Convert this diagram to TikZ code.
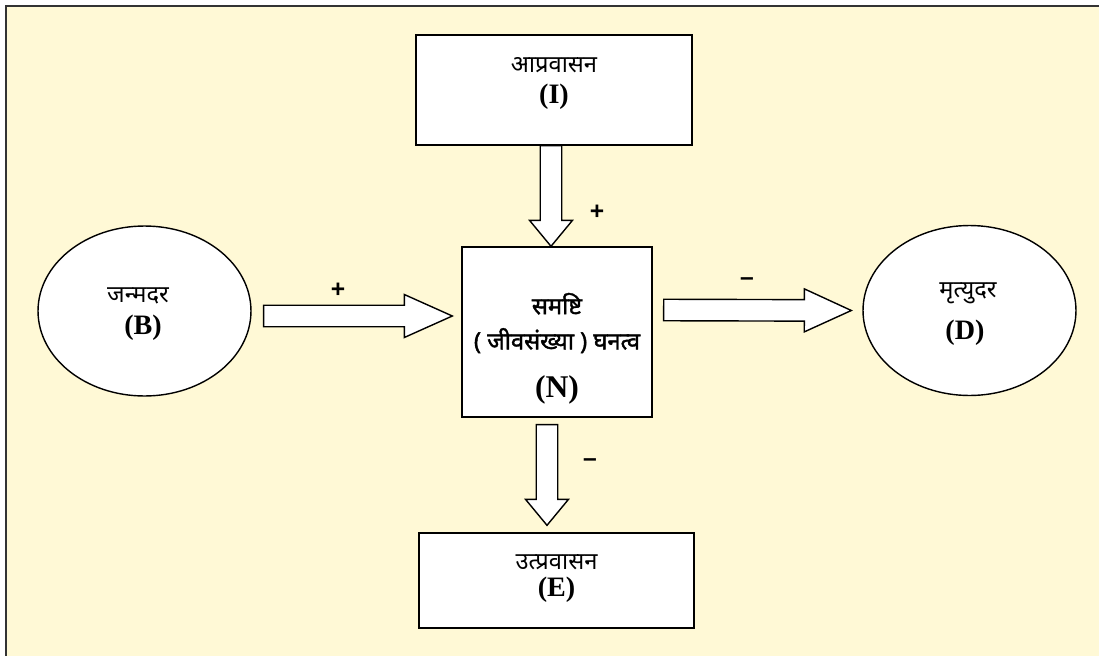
\documentclass[tikz,border=0pt]{standalone}
\usepackage{fontspec}
\setmainfont{Liberation Serif}
\newfontfamily\hindi[Script=Devanagari]{Noto Sans}
\newfontfamily\hindibold[Script=Devanagari,FakeBold=1.6]{Noto Sans}
\newfontfamily\signfont{Liberation Sans}
\usepackage{tikz}
\usetikzlibrary{shapes,calc,positioning}

\definecolor{bgyellow}{HTML}{FFF9D6}
\definecolor{framegray}{HTML}{333333}

\tikzset{
  box/.style={draw,fill=white,line width=0.8pt,inner sep=0pt},
  oval/.style={ellipse,draw,fill=white,line width=0.8pt,inner sep=0pt,
    minimum width=4.26cm,minimum height=3.4cm},
  fatarrow/.style={draw,fill=white,line width=0.8pt,line join=miter},
  htext/.style={font=\hindi\fontsize{13.5}{20}\selectfont,align=center},
  ltext/.style={font=\bfseries\fontsize{16}{18}\selectfont},
  sign/.style={font=\signfont\bfseries\fontsize{14}{14}\selectfont}
}

% hollow block arrow: [head length] {from} {to}
\def\shaftw{0.215cm}
\def\headw{0.43cm}
\newcommand{\blockarrow}[3][0.52cm]{%
  \coordinate (bh) at ($(#3)!#1!(#2)$);
  \draw[fatarrow] ($(#2)!\shaftw!90:(#3)$) -- ($(bh)!\shaftw!90:(#3)$)
    -- ($(bh)!\headw!90:(#3)$) -- (#3) -- ($(bh)!\headw!-90:(#3)$)
    -- ($(bh)!\shaftw!-90:(#3)$) -- ($(#2)!\shaftw!-90:(#3)$) -- cycle;}

\begin{document}
\begin{tikzpicture}[x=0.02cm,y=-0.02cm]
       \useasboundingbox (0,0) rectangle (1099,656);
       % background and frame
       \fill[bgyellow] (6,6) rectangle (1120,680);
       \draw[framegray,line width=1.4pt] (6,680) -- (6,6) -- (1120,6);

       % boxes
       \node[box,minimum width=5.52cm,minimum height=2.2cm] (I) at (554,90) {};
       \node[box,minimum width=3.8cm,minimum height=3.4cm] (N) at (557,332) {};
       \node[box,minimum width=5.5cm,minimum height=1.9cm] (E) at (556.5,580.5) {};
       \node[oval] (B) at (144.5,311) {};
       \node[oval] (D) at (969.5,310.5) {};

       % texts
       \node[htext] (Ih) at (554,65) {आप्रवासन};
       \node[ltext] (Il) at (554,97) {(I)};
       \node[htext,font=\hindibold\fontsize{13.5}{20}\selectfont] (Nh) at (557,323) {समष्टि\\( जीवसंख्या ) घनत्व};
       \node[ltext,font=\bfseries\fontsize{18}{20}\selectfont] (Nl) at (557,390) {(N)};
       \node[htext] (Eh) at (556.5,562) {उत्प्रवासन};
       \node[ltext] (El) at (556.5,590) {(E)};
       \node[htext] (Bh) at (138,296) {जन्मदर};
       \node[ltext] (Bl) at (143,328) {(B)};
       \node[htext] (Dh) at (968,293) {मृत्युदर};
       \node[ltext] (Dl) at (965,333) {(D)};

       % flows
       \blockarrow{$([xshift=-0.06cm]I.south)$}{$([xshift=-0.12cm]N.north)$}
       \blockarrow[0.96cm]{$(B.east)+(12,5)$}{$(N.west)+(-9,-16)$}
       \blockarrow[0.94cm]{$(N.east)+(11,-22)$}{$(D.west)+(-11,0)$}
       \blockarrow{$(N.south)+(-10,7)$}{$(E.north)+(-9.5,-7)$}

       % signs
       \node[sign] (s1) at (597,212) {+};
       \node[sign] (s2) at (338,290) {+};
       \node[sign] (s3) at (747,282) {–};
       \node[sign] (s4) at (590,463) {–};
\end{tikzpicture}
\end{document}
